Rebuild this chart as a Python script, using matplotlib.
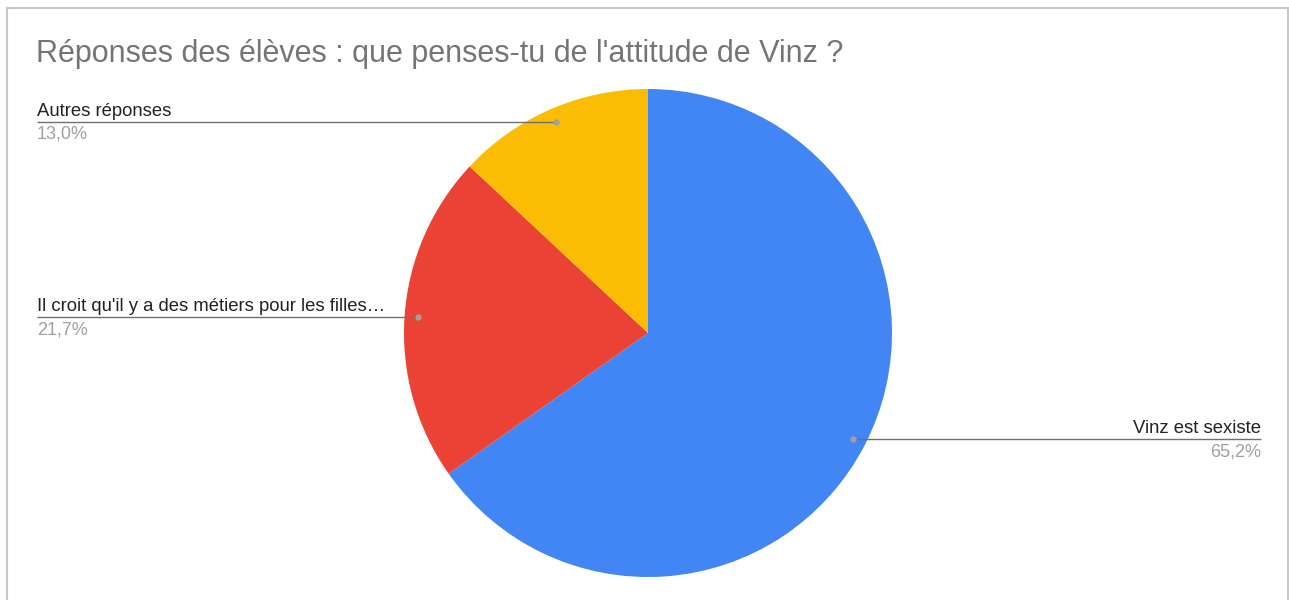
import numpy as np
import matplotlib
matplotlib.use("Agg")
import matplotlib.pyplot as plt

title = "Réponses des élèves : que penses-tu de l'attitude de Vinz ?"
labels = ["Vinz est sexiste", "Il croit qu'il y a des métiers pour les filles…", "Autres réponses"]
values = [15, 5, 3]
pct_labels = ["65,2%", "21,7%", "13,0%"]
colors = ["#4285F4", "#EA4335", "#FBBC04"]

W, H = 1289, 600
fig = plt.figure(figsize=(W / 100, H / 100), dpi=100)
ax = fig.add_axes([0, 0, 1, 1])
ax.set_xlim(0, W)
ax.set_ylim(0, H)
ax.set_aspect("equal")
ax.axis("off")

font = "Liberation Sans"
cx, cy, R = 648, H - 333, 244

ax.pie(values, colors=colors, startangle=90, counterclock=False,
       center=(cx, cy), radius=R, wedgeprops=dict(linewidth=0))
ax.set_xlim(0, W)
ax.set_ylim(0, H)

# border
ax.plot([7, 7, 1287.5, 1287.5], [-5, H - 8, H - 8, -5], color="#c8c8c8",
        lw=1.5, solid_joinstyle="miter")

ax.text(36, H - 62, title, fontsize=22, color="#757575", family=font,
        va="baseline", ha="left")

total = sum(values)
cum = 0
for lab, v, p in zip(labels, values, pct_labels):
    mid = cum + v / 2
    cum += v
    ang = np.deg2rad(90 - 360 * mid / total)
    dx, dy = cx + 0.945 * R * np.cos(ang), cy + 0.945 * R * np.sin(ang)
    if dx > cx:
        x_end = 1261
        ha = "right"
    else:
        x_end = 37
        ha = "left"
    ax.plot([dx, x_end], [dy, dy], color="#707070", lw=1.0, solid_capstyle="butt")
    ax.plot([dx], [dy], "o", color="#a0a0a0", ms=4.5, mec="none")
    ax.text(x_end, dy + 6, lab, fontsize=13.3, color="#222222", family=font,
            ha=ha, va="baseline")
    ax.text(x_end, dy - 17, p, fontsize=13, color="#a0a0a0", family=font,
            ha=ha, va="baseline")

fig.savefig("out.png", dpi=100)
